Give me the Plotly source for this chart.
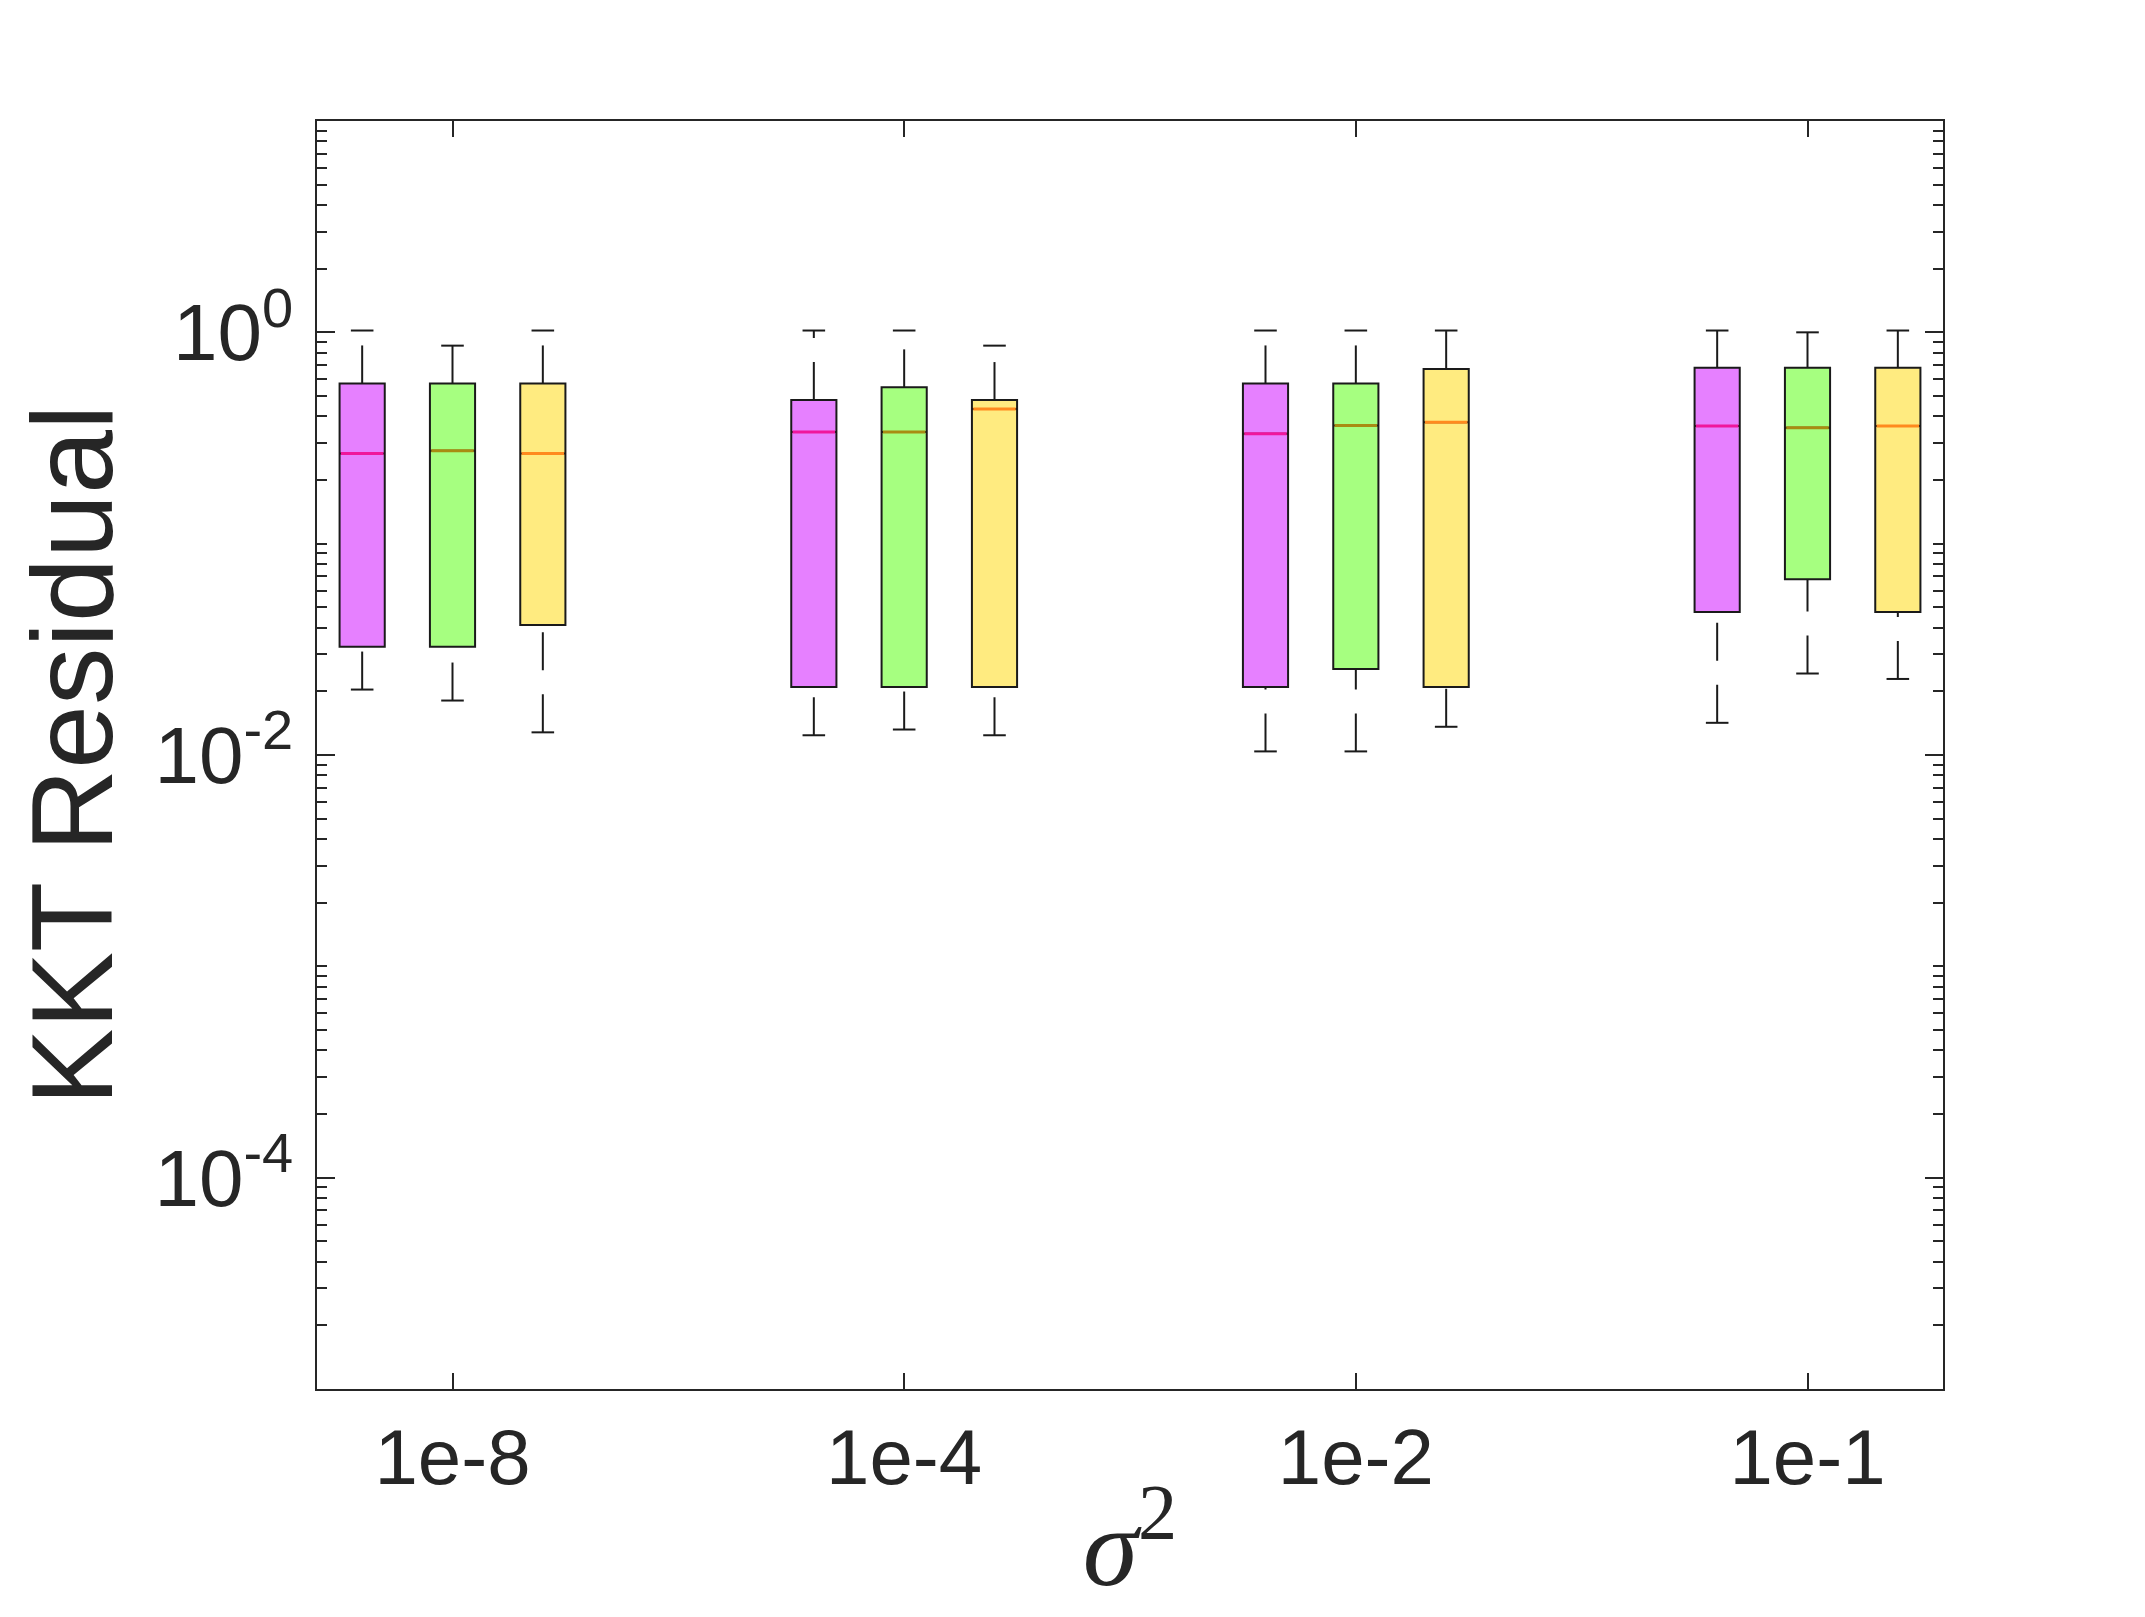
import plotly.graph_objects as go

# sigma^2 groups on the x axis
groups = ["1e-8", "1e-4", "1e-2", "1e-1"]
group_pos = [1, 2, 3, 4]

# three methods per group, order: magenta, green, yellow
series_names = ["method A", "method B", "method C"]
offsets = [-0.2, 0.0, 0.2]
fill_colors = ["#e680ff", "#a6ff80", "#ffeb80"]
median_colors = ["#f0169c", "#a88c12", "#ff8a1e"]

upper_whisker = [
    [1.02, 1.02, 1.02, 1.02],
    [0.865, 1.02, 1.02, 1.0],
    [1.02, 0.865, 1.02, 1.02],
]
q3 = [
    [0.573, 0.478, 0.573, 0.680],
    [0.573, 0.549, 0.573, 0.680],
    [0.573, 0.478, 0.670, 0.680],
]
medians = [
    [0.267, 0.338, 0.331, 0.360],
    [0.275, 0.338, 0.362, 0.354],
    [0.267, 0.434, 0.375, 0.360],
]
q1 = [
    [0.0325, 0.0210, 0.0210, 0.0475],
    [0.0325, 0.0210, 0.0255, 0.0678],
    [0.0412, 0.0210, 0.0210, 0.0475],
]
lower_whisker = [
    [0.0204, 0.0124, 0.0104, 0.0142],
    [0.0181, 0.0132, 0.0104, 0.0243],
    [0.0128, 0.0124, 0.0136, 0.0229],
]

ytick_vals = [1, 1e-2, 1e-4]
ytick_text = ["10<sup>0</sup>", "10<sup>-2</sup>", "10<sup>-4</sup>"]

ink = "#262626"
box_w = 0.1
cap_w = 0.05

fig = go.Figure()

for s in range(3):
    xs = [g + offsets[s] for g in group_pos]
    # the box itself (whiskers are drawn separately, dashed like matlab)
    fig.add_trace(go.Box(
        x=xs, q1=q1[s], median=medians[s], q3=q3[s],
        lowerfence=q1[s], upperfence=q3[s],
        width=box_w, whiskerwidth=0,
        fillcolor=fill_colors[s],
        line=dict(color="#1a1a1a", width=2),
        name=series_names[s], showlegend=False, hoverinfo="skip",
    ))

    wx, wy = [], []
    cx, cy = [], []
    mx, my = [], []
    for i, x in enumerate(xs):
        wx += [x, x, None, x, x, None]
        wy += [q3[s][i], upper_whisker[s][i], None, lower_whisker[s][i], q1[s][i], None]
        cx += [x - cap_w / 2, x + cap_w / 2, None, x - cap_w / 2, x + cap_w / 2, None]
        cy += [upper_whisker[s][i], upper_whisker[s][i], None,
               lower_whisker[s][i], lower_whisker[s][i], None]
        mx += [x - box_w / 2 + 0.003, x + box_w / 2 - 0.003, None]
        my += [medians[s][i], medians[s][i], None]

    fig.add_trace(go.Scatter(x=wx, y=wy, mode="lines",
                             line=dict(color="#1a1a1a", width=2, dash="38px,24px"),
                             showlegend=False, hoverinfo="skip"))
    fig.add_trace(go.Scatter(x=cx, y=cy, mode="lines",
                             line=dict(color="#1a1a1a", width=2),
                             showlegend=False, hoverinfo="skip"))
    fig.add_trace(go.Scatter(x=mx, y=my, mode="lines",
                             line=dict(color=median_colors[s], width=3),
                             showlegend=False, hoverinfo="skip"))

minor_vals = [m * 10.0 ** k for k in range(-5, 1) for m in range(2, 10)] + [1e-1, 1e-3]

fig.update_layout(
    width=2145, height=1617,
    margin=dict(l=309, r=210, t=113, b=236),
    paper_bgcolor="white", plot_bgcolor="white",
    boxmode="overlay",
    showlegend=False,
    font=dict(family="Liberation Sans, Arial, sans-serif", color=ink),
    xaxis=dict(
        range=[0.7, 4.3],
        tickmode="array", tickvals=group_pos, ticktext=groups,
        ticks="inside", ticklen=16, tickwidth=1.5, tickcolor=ink,
        showline=True, linecolor=ink, linewidth=1.5, mirror="ticks",
        showgrid=False, zeroline=False,
        tickfont=dict(size=78, color=ink),
        title=dict(text="<i>σ</i><sup>2</sup>",
                   font=dict(family="Liberation Serif, serif", size=112, color=ink),
                   standoff=6),
    ),
    yaxis=dict(
        type="log", range=[-5, 1],
        tickmode="array", tickvals=ytick_vals, ticktext=ytick_text,
        ticks="inside", ticklen=18, tickwidth=1.5, tickcolor=ink,
        minor=dict(tickmode="array", tickvals=minor_vals, ticks="inside",
                   ticklen=10, tickwidth=1.5, tickcolor=ink, showgrid=False),
        showline=True, linecolor=ink, linewidth=1.5, mirror="ticks",
        showgrid=False, zeroline=False,
        tickfont=dict(size=80, color=ink),
        ticklabelstandoff=6,
        title=dict(text="KKT Residual", font=dict(size=115, color=ink), standoff=26),
    ),
)

fig.write_html("out.html")
